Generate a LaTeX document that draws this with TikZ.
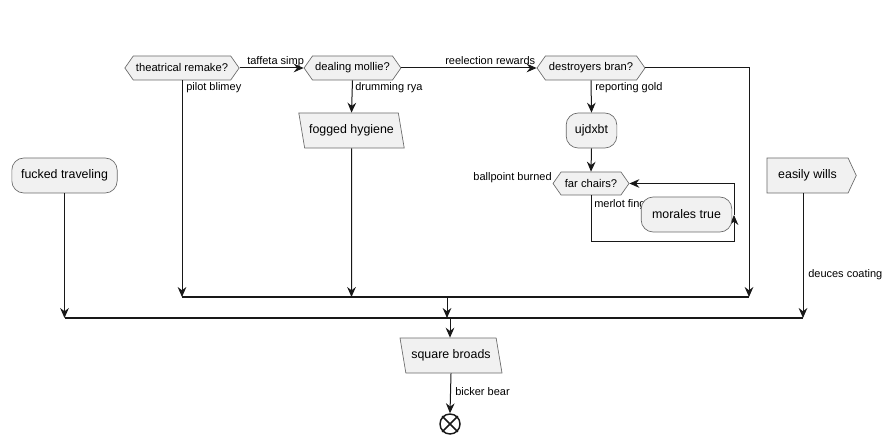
\documentclass[tikz,border=0pt]{standalone}
\usepackage{fontspec}
\setmainfont{Liberation Sans}
\usetikzlibrary{arrows.meta,shapes.geometric,shapes.symbols,shapes.misc}

\definecolor{actfill}{HTML}{F1F1F1}
\definecolor{actline}{HTML}{181818}

\tikzset{
  actbox/.style={draw=actline!65, line width=0.5pt, fill=actfill, rounded corners=9pt,
    minimum height=26.25pt, inner xsep=6pt, font=\fontsize{9.3}{11}\selectfont},
  ifhex/.style={signal, signal to=west and east, signal pointer angle=110,
    draw=actline!65, line width=0.5pt, fill=actfill, minimum height=18pt,
    inner xsep=2pt, inner ysep=1pt, font=\fontsize{8.4}{10}\selectfont},
  iobox/.style={trapezium, trapezium left angle=106, trapezium right angle=74,
    trapezium stretches body, draw=actline!65, line width=0.5pt, fill=actfill,
    minimum height=26.25pt, font=\fontsize{9.3}{11}\selectfont},
  sendbox/.style={signal, signal to=east, signal pointer angle=130,
    draw=actline!65, line width=0.5pt, fill=actfill, minimum height=26.25pt,
    font=\fontsize{9.3}{11}\selectfont},
  lbl/.style={font=\fontsize{8.25}{10}\selectfont, inner sep=0pt},
  flow/.style={draw=actline, line width=0.75pt},
  bar/.style={draw=actline, line width=1.1pt},
}

\begin{document}
\begin{tikzpicture}[>={Stealth[length=7.5pt,width=6.5pt,inset=2.5pt]}, x=0.75pt, y=-0.75pt]
    \useasboundingbox (0,0) rectangle (892,445);

    % ===== top row of decisions =====
    \node[ifhex, minimum width=84pt] (remake) at (182,68) {theatrical remake?};
    \node[ifhex, minimum width=70pt] (mollie) at (352.5,68) {dealing mollie?};
    \node[ifhex, minimum width=81pt] (bran) at (591,68) {destroyers bran?};
    \coordinate (branout) at (749,68);

    \node[iobox, minimum width=79pt] (hygiene) at (351.5,130.5) {fogged hygiene};
    \node[actbox, minimum width=38pt] (ujdxbt) at (591.5,130.5) {ujdxbt};
    \node[ifhex, minimum width=57pt, minimum height=17.25pt] (chairs) at (591,183.5) {far chairs?};

    % ===== side branches =====
    \node[actbox, minimum width=79pt] (traveling) at (64.5,175.5) {fucked traveling};
    \node[sendbox, minimum width=67pt] (wills) at (807.5,175.5) {easily wills};
    \coordinate (willsfoot) at (803,193);

    % ===== merge bars and end =====
    \coordinate (joinA) at (447,297);
    \coordinate (joinB) at (450,318);
    \node[iobox, minimum width=76.5pt] (broads) at (451,355.5) {square broads};
    \node[circle, draw=actline, line width=1.1pt, minimum size=15pt, inner sep=0pt] (stop) at (450,424) {};
    \node[cross out, draw=actline, line width=1.1pt, minimum size=10.6pt, inner sep=0pt] (stopx) at (stop) {};

    % edges along the top
    \draw[flow, ->] (remake.east) -- (mollie.west);
    \node[lbl, anchor=base west] at (247,65) {taffeta simp};
    \draw[flow, ->] (mollie.east) -- (bran.west);
    \node[lbl, anchor=base west] at (445,65) {reelection rewards};

    \draw[flow, ->] (remake.south) -- (remake |- joinA);
    \node[lbl, anchor=base west] at (186,91) {pilot blimey};
    \draw[flow, ->] (mollie.south) -- (hygiene.north);
    \node[lbl, anchor=base west] at (355,91) {drumming rya};
    \draw[flow, ->] (hygiene.south) -- (hygiene |- joinA);
    \draw[flow, ->] (bran.south) -- (ujdxbt.north);
    \node[lbl, anchor=base west] at (595,91) {reporting gold};
    \draw[flow, ->] (bran.east) -- (branout) -- (branout |- joinA);
    \draw[flow, ->] (ujdxbt.south) -- (chairs.north);

    % loop round far chairs
    \coordinate (loopSE) at (734,242);
    \coordinate (loopmid) at (734,215);
    \draw[flow, ->] (chairs.south) |- (loopSE) -- (loopmid);
    \draw[flow, ->] (loopmid) |- (chairs.east);
    \node[lbl, anchor=base east] at (552,181) {ballpoint burned};
    \node[lbl, anchor=base west] at (594,208) {merlot fing};
    \node[actbox, minimum width=68pt] (morales) at (686.5,214.5) {morales true};

    % merging
    \draw[bar] (remake |- joinA) -- (branout |- joinA);
    \draw[bar] (traveling |- joinB) -- (willsfoot |- joinB);
    \draw[flow, ->] (joinA) -- (joinA |- joinB);
    \draw[flow, ->] (traveling.south) -- (traveling |- joinB);
    \draw[flow, ->] (willsfoot) -- (willsfoot |- joinB);
    \node[lbl, anchor=base west] at (808,277) {deuces coating};

    \draw[flow, ->] (joinB) -- (joinB |- broads.north);
    \draw[flow, ->] (broads.south) -- (stop.north);
    \node[lbl, anchor=base west] at (455,395) {bicker bear};
\end{tikzpicture}
\end{document}
